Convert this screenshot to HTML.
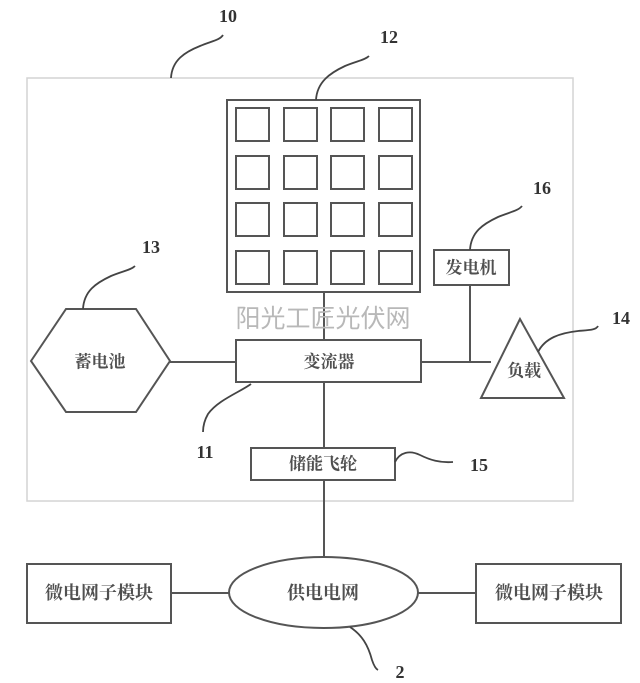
<!DOCTYPE html>
<html>
<head>
<meta charset="utf-8">
<style>
  html,body{margin:0;padding:0;background:#fff;}
  body{width:640px;height:683px;overflow:hidden;}
  svg{display:block;}
  .cjk{font-family:"Liberation Serif","Noto Serif CJK SC","Noto Sans CJK SC",serif;fill:#505050;font-size:17px;font-weight:bold;}
  .num{font-family:"Liberation Serif",serif;fill:#333;font-size:18px;font-weight:bold;}
  .wm{font-family:"Liberation Sans","Noto Sans CJK SC",sans-serif;fill:#b8b8b8;font-size:25px;}
</style>
</head>
<body>
<svg width="640" height="683" viewBox="0 0 640 683" xmlns="http://www.w3.org/2000/svg">
  <rect x="0" y="0" width="640" height="683" fill="#fff"/>
  <!-- outer box 10 -->
  <rect x="27" y="78" width="546" height="423" fill="none" stroke="#d4d4d4" stroke-width="1.5"/>

  <g fill="none" stroke="#555" stroke-width="2">
    <!-- solar panel 12 -->
    <rect x="227" y="100" width="193" height="192"/>
    <rect x="236" y="108" width="33" height="33"/>
    <rect x="284" y="108" width="33" height="33"/>
    <rect x="331" y="108" width="33" height="33"/>
    <rect x="379" y="108" width="33" height="33"/>
    <rect x="236" y="156" width="33" height="33"/>
    <rect x="284" y="156" width="33" height="33"/>
    <rect x="331" y="156" width="33" height="33"/>
    <rect x="379" y="156" width="33" height="33"/>
    <rect x="236" y="203" width="33" height="33"/>
    <rect x="284" y="203" width="33" height="33"/>
    <rect x="331" y="203" width="33" height="33"/>
    <rect x="379" y="203" width="33" height="33"/>
    <rect x="236" y="251" width="33" height="33"/>
    <rect x="284" y="251" width="33" height="33"/>
    <rect x="331" y="251" width="33" height="33"/>
    <rect x="379" y="251" width="33" height="33"/>

    <!-- generator 16 -->
    <rect x="434" y="250" width="75" height="35"/>
    <!-- converter 11 -->
    <rect x="236" y="340" width="185" height="42"/>
    <!-- flywheel 15 -->
    <rect x="251" y="448" width="144" height="32"/>
    <!-- hexagon 13 -->
    <polygon points="31,361 66,309 136,309 170,361 136,412 66,412"/>
    <!-- triangle 14 -->
    <polygon points="520,319 481,398 564,398"/>
    <!-- ellipse 2 -->
    <ellipse cx="323.5" cy="592.5" rx="94.5" ry="35.5"/>
    <!-- micro grid boxes -->
    <rect x="27" y="564" width="144" height="59"/>
    <rect x="476" y="564" width="145" height="59"/>

    <!-- connectors -->
    <line x1="324" y1="292" x2="324" y2="340"/>
    <line x1="170" y1="362" x2="236" y2="362"/>
    <line x1="421" y1="362" x2="491" y2="362"/>
    <line x1="470" y1="285" x2="470" y2="362"/>
    <line x1="324" y1="382" x2="324" y2="448"/>
    <line x1="324" y1="480" x2="324" y2="557"/>
    <line x1="171" y1="593" x2="229" y2="593"/>
    <line x1="418" y1="593" x2="476" y2="593"/>
  </g>

  <!-- leader curves -->
  <g fill="none" stroke="#444" stroke-width="1.8">
    <path d="M171,78 C172,60 185,52 200,46 C212,41 220,40 223,35"/>
    <path d="M316,100 C317,82 330,73 345,66 C357,61 365,60 369,56"/>
    <path d="M470,250 C471,232 483,224 498,217 C510,212 518,211 522,206"/>
    <path d="M83,309 C84,291 96,283 111,276 C123,271 131,270 135,266"/>
    <path d="M538,352 C545,338 560,333 578,331 C590,330 596,330 598,326"/>
    <path d="M251,384 C240,392 218,400 208,414 C204,421 203,428 203,432"/>
    <path d="M395,462 C400,452 410,450 420,455 C430,460 440,463 453,462"/>
    <path d="M350,627 C362,635 368,645 372,660 C374,666 376,669 378,670"/>
  </g>

  <!-- number labels -->
  <g class="num" text-anchor="middle" dominant-baseline="central">
    <text x="228" y="16">10</text>
    <text x="389" y="37">12</text>
    <text x="542" y="188">16</text>
    <text x="151" y="247">13</text>
    <text x="621" y="318">14</text>
    <text x="205" y="452">11</text>
    <text x="479" y="465">15</text>
    <text x="400" y="672">2</text>
  </g>

  <!-- node text -->
  <g class="cjk" text-anchor="middle" dominant-baseline="central">
    <text x="329" y="362">变流器</text>
    <text x="100" y="362">蓄电池</text>
    <text x="471" y="268">发电机</text>
    <text x="524" y="371">负载</text>
    <text x="323" y="464">储能飞轮</text>
    <text x="323" y="593" style="font-size:18px">供电电网</text>
    <text x="99" y="593" style="font-size:18px">微电网子模块</text>
    <text x="549" y="593" style="font-size:18px">微电网子模块</text>
  </g>

  <!-- watermark -->
  <text class="wm" x="323" y="319" text-anchor="middle" dominant-baseline="central">阳光工匠光伏网</text>
</svg>
</body>
</html>
